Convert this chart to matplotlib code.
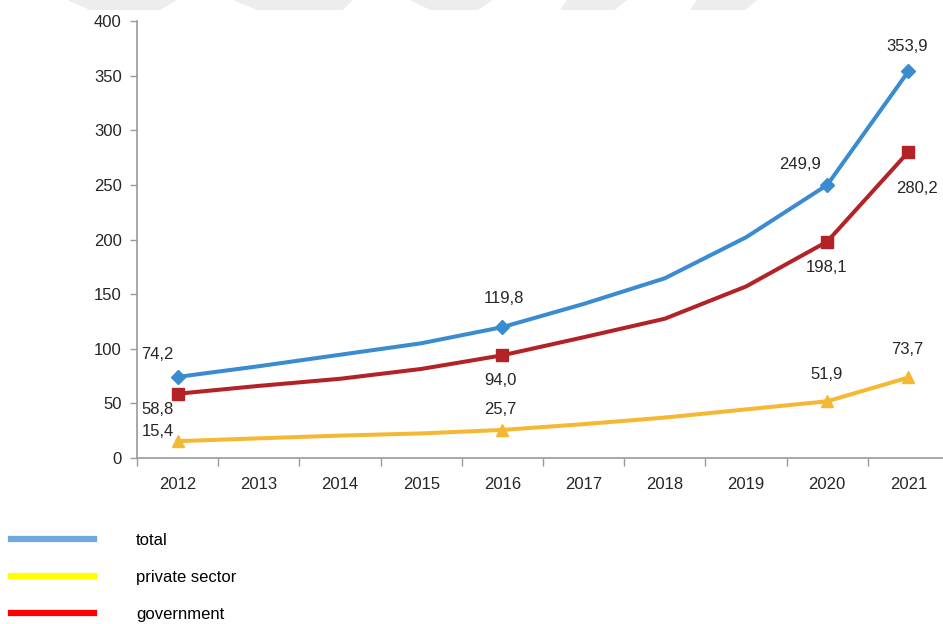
import matplotlib.pyplot as plt
import numpy as np
from matplotlib.lines import Line2D
from matplotlib.patches import Polygon

# Data (unlabeled years estimated)
years = ["2012", "2013", "2014", "2015", "2016", "2017", "2018", "2019", "2020", "2021"]
total = [74.2, 84.0, 94.5, 105.0, 119.8, 141.0, 164.5, 202.0, 249.9, 353.9]
government = [58.8, 66.0, 72.5, 81.5, 94.0, 110.5, 127.5, 157.0, 198.1, 280.2]
private = [15.4, 18.0, 20.5, 22.5, 25.7, 31.0, 37.0, 44.5, 51.9, 73.7]

# points that carry a marker and a value label
labeled = [0, 4, 8, 9]

plt.rcParams["font.family"] = ["Liberation Sans", "DejaVu Sans"]

fig = plt.figure(figsize=(9.43, 6.24), dpi=100)

# faint watermark bands at the top edge
wm = [
    [(67, 0), (177, 0), (160, 10), (90, 10)],
    [(233, 0), (353, 0), (343, 10), (257, 10)],
    [(410, 0), (493, 0), (478, 10), (430, 10)],
    [(567, 0), (627, 0), (615, 10), (560, 10)],
    [(697, 0), (757, 0), (745, 10), (690, 10)],
]
for pts in wm:
    poly = [(px / 943, 1 - py / 624) for px, py in pts]
    fig.add_artist(Polygon(poly, closed=True, transform=fig.transFigure,
                           facecolor="#ededed", edgecolor="none", zorder=0))

ax = fig.add_axes([137 / 943, 166 / 624, 812 / 943, 437 / 624])
x = np.arange(len(years))

c_total = "#3b8bd0"
c_gov = "#b22226"
c_priv = "#f5b833"

ax.plot(x, total, color=c_total, lw=2.9, marker="D", ms=7, markevery=labeled, zorder=4, clip_on=False)
ax.plot(x, government, color=c_gov, lw=2.9, marker="s", ms=9, markevery=labeled, zorder=3, clip_on=False)
ax.plot(x, private, color=c_priv, lw=2.9, marker="^", ms=9, markevery=labeled, zorder=2, clip_on=False)

def fmt(v):
    return f"{v:.1f}".replace(".", ",")

# label offsets in pixels (dx, dy)
off_total = {0: (-20, 22), 4: (2, 29), 8: (-27, 20), 9: (-1, 25)}
off_gov = {0: (-20, -16), 4: (-2, -25), 8: (-1, -26), 9: (9, -37)}
off_priv = {0: (-20, 10), 4: (-2, 20), 8: (-1, 27), 9: (-1, 28)}

for series, offs in [(total, off_total), (government, off_gov), (private, off_priv)]:
    for i in labeled:
        dx, dy = offs[i]
        ax.annotate(fmt(series[i]), (x[i], series[i]), xytext=(dx, dy),
                    textcoords="offset pixels", ha="center", va="center",
                    fontsize=12, color="#262626", zorder=6)

ax.set_xlim(-0.5, len(years) - 0.5)
ax.set_ylim(0, 400)
ax.set_yticks(np.arange(0, 401, 50))
ax.set_xticks(x)
ax.set_xticklabels(years)
ax.set_xticks(np.arange(-0.5, len(years)), minor=True)
ax.tick_params(axis="x", which="major", length=0, pad=14, labelsize=12, labelcolor="#262626")
ax.tick_params(axis="x", which="minor", length=6, color="#999999", width=1)
ax.tick_params(axis="y", length=5, color="#999999", width=1, pad=6, labelsize=12, labelcolor="#262626")

for s in ["top", "right"]:
    ax.spines[s].set_visible(False)
for s in ["left", "bottom"]:
    ax.spines[s].set_color("#999999")
    ax.spines[s].set_linewidth(1.2)

# legend below the chart
handles = [
    Line2D([], [], color="#6fa8dc", lw=4.5),
    Line2D([], [], color="#ffff00", lw=4.5),
    Line2D([], [], color="#ff0000", lw=4.5),
]
fig.legend(handles, ["total", "private sector", "government"],
           loc="upper left", bbox_to_anchor=(11 / 943, 1 - 533 / 624),
           frameon=False, borderpad=0, borderaxespad=0,
           handlelength=5.0, handletextpad=2.5, labelspacing=1.32,
           prop={"size": 12})

plt.savefig("out.png", dpi=100)
